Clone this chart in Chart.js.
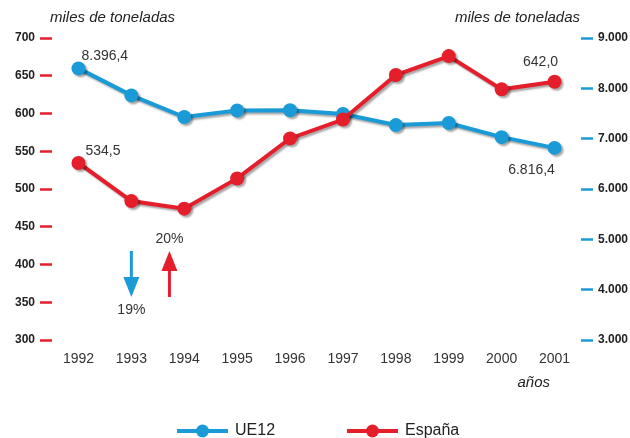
<!DOCTYPE html>
<html>
<head>
<meta charset="utf-8">
<script src="https://cdn.jsdelivr.net/npm/chart.js@4"></script>
<style>
  html, body { margin: 0; padding: 0; background: #fff; }
  #wrap { width: 630px; height: 438px; position: relative; }
</style>
</head>
<body>
<div id="wrap"><canvas id="chart"></canvas></div>
<script>
const years = ["1992", "1993", "1994", "1995", "1996", "1997", "1998", "1999", "2000", "2001"];
const ue12 = [8396.4, 7860, 7430, 7560, 7565, 7490, 7270, 7310, 7030, 6816.4];
const espana = [534.5, 484, 474, 514, 567, 592, 651, 676, 632, 642.0];
const leftTicks = [300, 350, 400, 450, 500, 550, 600, 650, 700];
const rightTicks = [3000, 4000, 5000, 6000, 7000, 8000, 9000];

const BLUE = "#1a9bd7";
const RED = "#e41e2b";
const NARROW = "'Liberation Sans Narrow', 'Liberation Sans', Arial, sans-serif";
const SANS = "'Liberation Sans', Arial, sans-serif";

function miles(v) {
    return String(v).replace(/\B(?=(\d{3})+(?!\d))/g, ".");
}

const shadow = {
    id: "shadow",
    beforeDatasetDraw(chart) {
        const ctx = chart.ctx;
        ctx.save();
        ctx.shadowColor = "rgba(0,0,0,0.35)";
        ctx.shadowOffsetX = 2;
        ctx.shadowOffsetY = 2;
        ctx.shadowBlur = 2;
    },
    afterDatasetDraw(chart) {
        chart.ctx.restore();
    },
};

function arrow(ctx, x, yFrom, yTo, color) {
    const dir = yTo > yFrom ? 1 : -1;
    const head = 20;
    ctx.save();
    ctx.strokeStyle = color;
    ctx.fillStyle = color;
    ctx.lineWidth = 3;
    ctx.beginPath();
    ctx.moveTo(x, yFrom);
    ctx.lineTo(x, yTo - dir * head);
    ctx.stroke();
    ctx.beginPath();
    ctx.moveTo(x - 8, yTo - dir * head);
    ctx.lineTo(x + 8, yTo - dir * head);
    ctx.lineTo(x, yTo);
    ctx.closePath();
    ctx.fill();
    ctx.restore();
}

const notes = {
    id: "notes",
    afterDraw(chart) {
        const ctx = chart.ctx;
        const x = chart.scales.x;
        const yl = chart.scales.yL;
        const yr = chart.scales.yR;
        const last = years.length - 1;
        ctx.save();
        ctx.fillStyle = "#333";
        ctx.textBaseline = "middle";
        ctx.font = "14px " + NARROW;

        ctx.textAlign = "left";
        ctx.fillText("8.396,4", x.getPixelForValue(0) + 3, yr.getPixelForValue(ue12[0]) - 12);
        ctx.fillText("534,5", x.getPixelForValue(0) + 7, yl.getPixelForValue(espana[0]) - 12);
        ctx.textAlign = "center";
        ctx.fillText("642,0", x.getPixelForValue(last) - 14, yl.getPixelForValue(espana[last]) - 20);
        ctx.fillText("6.816,4", x.getPixelForValue(last) - 23, yr.getPixelForValue(ue12[last]) + 22);

        const x93 = x.getPixelForValue(1);
        const x94 = x.getPixelForValue(2);
        const xr = x93 + (x94 - x93) * 0.72;
        arrow(ctx, x93, yl.getPixelForValue(418), yl.getPixelForValue(357), BLUE);
        arrow(ctx, xr, yl.getPixelForValue(357), yl.getPixelForValue(418), RED);
        ctx.fillStyle = "#333";
        ctx.fillText("19%", x93, yl.getPixelForValue(340));
        ctx.fillText("20%", xr, yl.getPixelForValue(433));

        // axis titles
        ctx.font = "italic 15px " + SANS;
        ctx.fillStyle = "#222";
        ctx.textAlign = "left";
        ctx.fillText("miles de toneladas", 50, 18);
        ctx.textAlign = "right";
        ctx.fillText("miles de toneladas", 580, 18);
        ctx.fillText("años", 550, 383);

        // legend
        const items = [["UE12", BLUE, 177], ["España", RED, 347]];
        items.forEach(([label, color, lx]) => {
            ctx.strokeStyle = color;
            ctx.fillStyle = color;
            ctx.lineWidth = 4;
            ctx.beginPath();
            ctx.moveTo(lx, 431);
            ctx.lineTo(lx + 51, 431);
            ctx.stroke();
            ctx.beginPath();
            ctx.arc(lx + 25.5, 431, 6.5, 0, Math.PI * 2);
            ctx.fill();
            ctx.fillStyle = "#222";
            ctx.textAlign = "left";
            ctx.font = "16px " + NARROW;
            ctx.fillText(label, lx + 58, 431);
        });
        ctx.restore();
    },
};

new Chart(document.getElementById("chart"), {
    type: "line",
    data: {
        labels: years,
        datasets: [
            {
                label: "UE12",
                data: ue12,
                yAxisID: "yR",
                order: 1,
                borderColor: BLUE,
                backgroundColor: BLUE,
                borderWidth: 4,
                pointRadius: 7,
                pointBorderWidth: 0,
                tension: 0,
            },
            {
                label: "España",
                data: espana,
                yAxisID: "yL",
                order: 0,
                borderColor: RED,
                backgroundColor: RED,
                borderWidth: 4,
                pointRadius: 7,
                pointBorderWidth: 0,
                tension: 0,
            },
        ],
    },
    options: {
        responsive: true,
        maintainAspectRatio: false,
        animation: false,
        layout: { padding: { top: 38, bottom: 0, left: 0, right: 0 } },
        plugins: {
            legend: { display: false },
            tooltip: { enabled: false },
        },
        scales: {
            x: {
                offset: true,
                grid: { display: false },
                border: { display: false },
                ticks: { color: "#333", padding: 3, font: { family: NARROW, size: 14 } },
                afterFit(s) { s.height = 98; },
            },
            yL: {
                position: "left",
                min: 300,
                max: 700,
                afterBuildTicks(s) { s.ticks = leftTicks.map(v => ({ value: v })); },
                grid: { drawOnChartArea: false, tickLength: 12, tickWidth: 2.5, tickColor: RED },
                border: { display: false },
                ticks: { color: "#222", padding: 5, font: { family: SANS, size: 12, weight: "bold" } },
                afterFit(s) { s.width = 52; },
            },
            yR: {
                position: "right",
                min: 3000,
                max: 9000,
                afterBuildTicks(s) { s.ticks = rightTicks.map(v => ({ value: v })); },
                grid: { drawOnChartArea: false, tickLength: 12, tickWidth: 2.5, tickColor: BLUE },
                border: { display: false },
                ticks: {
                    color: "#222",
                    padding: 5,
                    font: { family: SANS, size: 12, weight: "bold" },
                    callback: v => miles(v),
                },
                afterFit(s) { s.width = 49; },
            },
        },
    },
    plugins: [shadow, notes],
});
</script>
</body>
</html>
